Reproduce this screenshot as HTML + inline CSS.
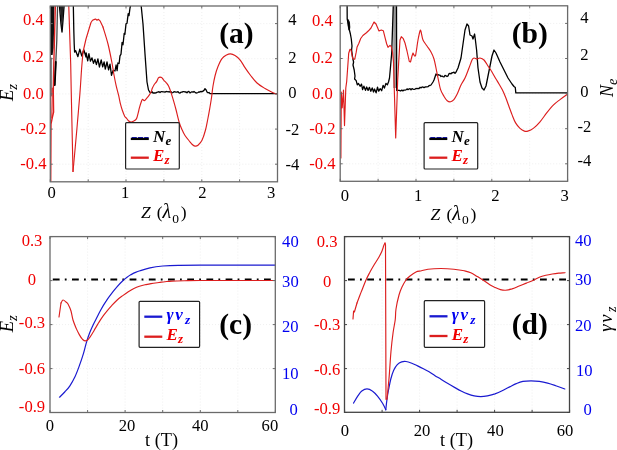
<!DOCTYPE html>
<html><head><meta charset="utf-8"><style>
html,body{margin:0;padding:0;background:#fff;width:617px;height:450px;overflow:hidden}
svg{display:block;filter:blur(0.35px)}
</style></head><body>
<svg width="617" height="450" viewBox="0 0 617 450">
<rect width="617" height="450" fill="#fff"/>
<line x1="88.2" y1="6.0" x2="88.2" y2="181.8" stroke="#ebebeb" stroke-width="0.8" stroke-dasharray="1,2"/>
<line x1="126.0" y1="6.0" x2="126.0" y2="181.8" stroke="#ebebeb" stroke-width="0.8" stroke-dasharray="1,2"/>
<line x1="163.9" y1="6.0" x2="163.9" y2="181.8" stroke="#ebebeb" stroke-width="0.8" stroke-dasharray="1,2"/>
<line x1="201.8" y1="6.0" x2="201.8" y2="181.8" stroke="#ebebeb" stroke-width="0.8" stroke-dasharray="1,2"/>
<line x1="239.6" y1="6.0" x2="239.6" y2="181.8" stroke="#ebebeb" stroke-width="0.8" stroke-dasharray="1,2"/>
<line x1="50.3" y1="23.6" x2="277.5" y2="23.6" stroke="#ebebeb" stroke-width="0.8" stroke-dasharray="1,2"/>
<line x1="50.3" y1="58.7" x2="277.5" y2="58.7" stroke="#ebebeb" stroke-width="0.8" stroke-dasharray="1,2"/>
<line x1="50.3" y1="93.9" x2="277.5" y2="93.9" stroke="#ebebeb" stroke-width="0.8" stroke-dasharray="1,2"/>
<line x1="50.3" y1="129.1" x2="277.5" y2="129.1" stroke="#ebebeb" stroke-width="0.8" stroke-dasharray="1,2"/>
<line x1="50.3" y1="164.2" x2="277.5" y2="164.2" stroke="#ebebeb" stroke-width="0.8" stroke-dasharray="1,2"/>
<clipPath id="cA"><rect x="50.3" y="6.0" width="227.2" height="175.8"/></clipPath>
<g clip-path="url(#cA)">
<polygon points="50.0,4 54.4,4 54.1,30 53.6,48 52.6,55 50.4,55 50.0,55" fill="#111"/>
<polyline points="51.6,58.0 51.6,96.0" fill="none" stroke="#777" stroke-width="1.0" stroke-linejoin="round" stroke-linecap="round" />
<polyline points="57.6,4.0 56.8,40.0 55.8,62.0 54.7,85.0" fill="none" stroke="#444" stroke-width="1.3" stroke-linejoin="round" stroke-linecap="round" />
<polyline points="55.8,62.0 54.7,85.0" fill="none" stroke="#000" stroke-width="1.9" stroke-linejoin="round" stroke-linecap="round" />
<polyline points="59.3,4.0 61.0,24.0 62.0,32.0 63.0,20.0 64.2,4.0" fill="none" stroke="#000" stroke-width="1.4" stroke-linejoin="round" stroke-linecap="round" />
<polygon points="59.6,4 62,31 63.8,4" fill="#222"/>
<polyline points="73.3,4.0 73.8,30.0 74.2,44.0 74.6,52.0 75.6,50.6 77.9,56.7 79.8,49.2 81.8,56.0 83.8,49.8 86.0,57.0 86.2,53.0 87.7,60.8 88.9,53.6 90.4,61.1 92.0,57.9 93.5,63.4 94.9,59.4 96.4,64.6 97.9,58.8 99.4,67.0 101.2,60.0 102.7,66.8 104.1,61.9 105.3,69.1 107.0,62.0 108.6,69.9 110.0,64.2 111.5,75.3 113.1,70.4 115.0,71.0 116.1,65.0 117.1,70.7 117.9,63.0 119.1,63.5 120.0,55.8 121.0,54.1 122.1,42.4 123.0,44.8 124.2,33.4 124.9,34.4 126.0,23.9 127.0,23.3 128.2,13.6 129.0,15.7 130.0,8.0 131.0,4.0 141.0,4.0 143.0,24.0 145.0,54.0 147.0,82.0 148.5,90.0 150.0,92.4 151.0,92.7 152.0,91.7 153.0,93.0 154.0,92.8 155.0,93.0 156.0,92.9 157.0,92.2 158.0,92.2 159.0,91.7 160.0,92.6 161.0,91.7 162.0,91.7 163.0,91.9 164.0,91.8 165.0,92.1 166.0,91.6 167.0,91.5 168.0,91.8 169.0,91.7 170.0,92.1 171.0,91.6 172.0,92.9 173.0,92.5 174.0,91.7 175.0,91.9 176.0,92.1 177.0,92.1 178.0,91.7 179.0,92.8 180.0,93.1 181.0,92.2 182.0,92.2 183.0,91.6 184.0,91.6 185.0,92.0 186.0,91.9 187.0,92.8 188.0,91.7 189.0,91.5 190.0,93.0 191.0,92.3 192.0,91.7 193.0,92.3 194.0,91.5 195.0,92.3 196.0,93.0 197.0,92.8 198.0,92.5 199.0,91.8 200.0,92.0 201.0,91.3 202.0,91.8 203.0,91.1 204.0,90.4 205.0,88.7 206.0,89.8 207.0,92.0 208.0,92.8 209.0,92.5 210.0,93.6 277.5,93.6" fill="none" stroke="#000" stroke-width="1.3" stroke-linejoin="round" stroke-linecap="round" />
<polyline points="55.4,4.0 54.7,30.0 53.8,64.0 53.3,92.0 53.6,112.0 52.2,118.0 51.0,124.0 50.7,183.0" fill="none" stroke="#dc1e1e" stroke-width="1.4" stroke-linejoin="round" stroke-linecap="round" />
<polyline points="52.3,88.0 51.8,118.0" fill="none" stroke="#dc1e1e" stroke-width="1.1" stroke-linejoin="round" stroke-linecap="round" />
<polyline points="68.7,4.0 70.7,64.0 71.2,90.0 73.0,171.5" fill="none" stroke="#dc1e1e" stroke-width="1.15" stroke-linejoin="round" stroke-linecap="round" />
<path d="M73.0,171.5 C73.6,164.6 75.7,142.8 76.8,130.0 C77.9,117.2 79.0,105.0 79.8,95.0 C80.6,85.0 81.0,77.2 81.5,70.0 C82.0,62.8 82.8,55.0 83.0,52.0" fill="none" stroke="#dc1e1e" stroke-width="1.15" stroke-linejoin="round" stroke-linecap="round"/>
<polyline points="83.0,52.0 86.0,39.0 89.0,29.0 91.0,22.5 92.5,20.2 94.0,19.6 95.5,19.0 97.0,20.2 98.5,19.3 100.0,20.8 103.0,27.0" fill="none" stroke="#dc1e1e" stroke-width="1.15" stroke-linejoin="round" stroke-linecap="round" />
<path d="M103.0,27.0 C103.8,29.8 106.5,38.0 108.0,44.0 C109.5,50.0 111.0,57.8 112.0,63.0 C113.0,68.2 113.3,71.2 114.0,75.0 C114.7,78.8 115.4,82.5 116.2,85.9 C117.0,89.4 118.0,92.7 118.7,95.7 C119.4,98.8 119.9,101.8 120.5,104.2 C121.1,106.6 121.6,108.2 122.3,110.3 C123.0,112.3 124.1,115.2 124.8,116.5 C125.5,117.8 126.0,117.6 126.6,118.3 C127.2,119.0 127.7,120.1 128.4,120.7 C129.1,121.3 130.1,121.9 130.9,122.0 C131.7,122.1 132.4,121.8 133.3,121.3 C134.2,120.8 135.6,120.3 136.4,118.9 C137.2,117.5 137.7,114.6 138.2,112.8 C138.7,111.0 138.9,109.7 139.4,107.9 C139.9,106.1 140.8,103.2 141.3,101.8 C141.8,100.4 142.0,99.5 142.5,99.3 C143.0,99.1 143.6,100.8 144.3,100.6 C145.0,100.4 146.0,99.0 146.8,98.1 C147.6,97.2 148.5,96.1 149.2,95.1 C149.9,94.1 150.6,93.1 151.1,92.0 C151.6,90.9 151.8,89.5 152.3,88.3 C152.8,87.1 153.4,85.8 154.1,84.7 C154.8,83.6 155.9,82.7 156.6,81.6 C157.3,80.5 157.8,78.7 158.4,77.9 C159.0,77.2 159.6,77.1 160.2,77.1 C160.8,77.1 161.5,77.4 162.1,77.9 C162.7,78.5 163.2,79.6 163.9,80.4 C164.6,81.2 165.5,81.8 166.3,82.8 C167.1,83.8 168.0,84.8 168.8,86.5 C169.6,88.2 170.5,91.0 171.2,93.2 C171.9,95.4 172.4,96.8 173.2,99.6 C174.0,102.4 175.1,106.1 176.1,110.0 C177.1,113.9 178.4,119.7 179.4,123.0 C180.4,126.3 181.3,127.9 182.2,130.0 C183.1,132.1 183.9,133.8 185.0,135.5 C186.1,137.2 187.7,139.1 188.9,140.5 C190.1,141.9 191.0,143.3 192.0,144.2 C193.0,145.1 194.0,145.9 195.0,146.1 C196.0,146.3 196.8,146.2 198.0,145.2 C199.2,144.2 200.8,142.8 202.0,140.3 C203.2,137.8 204.5,133.7 205.5,130.0 C206.5,126.3 207.2,121.8 208.0,118.0 C208.8,114.2 209.4,110.5 210.0,107.0 C210.6,103.5 211.1,100.5 211.6,97.0 C212.1,93.5 212.4,89.5 213.0,86.0 C213.6,82.5 214.2,79.2 215.0,76.0 C215.8,72.8 216.8,69.4 218.0,66.5 C219.2,63.6 220.5,60.6 222.0,58.6 C223.5,56.6 225.6,55.6 227.0,54.8 C228.4,54.0 229.2,53.8 230.5,53.9 C231.8,54.0 233.4,54.6 235.0,55.6 C236.6,56.6 238.3,57.8 240.0,59.8 C241.7,61.8 243.2,64.9 245.0,67.6 C246.8,70.3 249.0,73.4 251.0,76.0 C253.0,78.6 254.7,80.9 257.0,83.0 C259.3,85.1 262.5,87.0 265.0,88.5 C267.5,90.0 270.2,91.4 272.0,92.3 C273.8,93.2 275.0,93.5 276.0,93.8 C277.0,94.1 277.7,94.0 278.0,94.0" fill="none" stroke="#dc1e1e" stroke-width="1.15" stroke-linejoin="round" stroke-linecap="round"/>
</g>
<path d="M50.3,181.8 v-2.5 M50.3,6.0 v2.5 M88.2,181.8 v-2.5 M88.2,6.0 v2.5 M126.0,181.8 v-2.5 M126.0,6.0 v2.5 M163.9,181.8 v-2.5 M163.9,6.0 v2.5 M201.8,181.8 v-2.5 M201.8,6.0 v2.5 M239.6,181.8 v-2.5 M239.6,6.0 v2.5 M277.5,181.8 v-2.5 M277.5,6.0 v2.5 M50.3,23.6 h2.5 M277.5,23.6 h-2.5 M50.3,58.7 h2.5 M277.5,58.7 h-2.5 M50.3,93.9 h2.5 M277.5,93.9 h-2.5 M50.3,129.1 h2.5 M277.5,129.1 h-2.5 M50.3,164.2 h2.5 M277.5,164.2 h-2.5" stroke="#6a6a6a" stroke-width="1" fill="none"/>
<rect x="50.3" y="6.0" width="227.2" height="175.8" fill="none" stroke="#6a6a6a" stroke-width="1.3"/>
<line x1="378.1" y1="5.8" x2="378.1" y2="181.3" stroke="#ebebeb" stroke-width="0.8" stroke-dasharray="1,2"/>
<line x1="416.0" y1="5.8" x2="416.0" y2="181.3" stroke="#ebebeb" stroke-width="0.8" stroke-dasharray="1,2"/>
<line x1="453.9" y1="5.8" x2="453.9" y2="181.3" stroke="#ebebeb" stroke-width="0.8" stroke-dasharray="1,2"/>
<line x1="491.8" y1="5.8" x2="491.8" y2="181.3" stroke="#ebebeb" stroke-width="0.8" stroke-dasharray="1,2"/>
<line x1="529.7" y1="5.8" x2="529.7" y2="181.3" stroke="#ebebeb" stroke-width="0.8" stroke-dasharray="1,2"/>
<line x1="340.2" y1="23.4" x2="567.6" y2="23.4" stroke="#ebebeb" stroke-width="0.8" stroke-dasharray="1,2"/>
<line x1="340.2" y1="58.5" x2="567.6" y2="58.5" stroke="#ebebeb" stroke-width="0.8" stroke-dasharray="1,2"/>
<line x1="340.2" y1="93.6" x2="567.6" y2="93.6" stroke="#ebebeb" stroke-width="0.8" stroke-dasharray="1,2"/>
<line x1="340.2" y1="128.7" x2="567.6" y2="128.7" stroke="#ebebeb" stroke-width="0.8" stroke-dasharray="1,2"/>
<line x1="340.2" y1="163.8" x2="567.6" y2="163.8" stroke="#ebebeb" stroke-width="0.8" stroke-dasharray="1,2"/>
<clipPath id="cB"><rect x="340.2" y="5.8" width="227.40000000000003" height="175.5"/></clipPath>
<g clip-path="url(#cB)">
<rect x="393.2" y="4" width="3.4" height="84" fill="#9a9a9a"/>
<polygon points="347.2,18.5 348.6,19.5 349.9,22 350.3,27 349.8,31 348.4,30 347.6,25.5" fill="#111"/>
<polyline points="347.1,4.0 347.2,19.0 348.3,24.0 349.4,30.0 350.4,34.0 351.3,39.0 352.0,46.0 351.6,50.0 352.7,58.0 353.6,62.0 353.0,65.0 354.2,70.0 355.0,76.0 354.6,79.0 355.6,80.0 356.1,80.4 357.3,84.9 358.5,83.5 360.1,86.3 361.5,84.1 362.6,89.6 363.9,86.2 365.5,90.3 366.7,87.0 368.1,90.4 369.4,87.3 370.8,91.3 372.2,87.9 373.5,92.0 374.5,89.0 376.1,92.8 377.5,87.2 378.7,91.2 380.2,88.7 381.7,90.7 383.1,85.3 384.4,88.1 385.9,83.4 387.4,84.8 388.5,82.0 389.5,78.0 390.3,69.3 391.7,53.3 392.8,20.0 393.3,4.0" fill="none" stroke="#000" stroke-width="1.3" stroke-linejoin="round" stroke-linecap="round" />
<polyline points="396.5,4.0 396.7,90.5 397.5,90.2 398.6,90.4 399.6,90.5 400.7,91.0 401.8,90.1 402.9,90.9 403.9,90.1 405.0,90.1 406.0,89.9 407.0,88.9 408.0,89.6 409.0,89.0 410.0,88.6 411.0,89.9 412.0,88.7 413.0,89.2 414.0,89.5 415.0,89.1 416.0,88.5 417.0,88.6 418.0,88.5 419.0,88.7 420.0,87.3 421.0,87.9 422.0,87.1 423.0,87.0 424.0,87.7 425.0,87.0 426.0,86.8 427.0,86.8 428.0,86.7 429.0,85.6 430.0,85.5 431.0,85.0 432.0,83.5 433.0,82.0 434.0,80.0 436.0,74.0 437.0,75.0 438.0,74.6 439.0,75.1 440.0,75.1 441.0,76.5 442.0,76.0 443.0,76.6 444.0,77.0 445.0,75.4 446.0,75.8 447.0,76.5 448.0,75.9 449.0,73.7 450.0,73.3 451.0,73.8 452.0,72.6 453.0,72.8 454.0,72.1 455.0,73.4 456.0,72.2 457.0,70.0 458.0,68.0 461.0,58.0 463.0,44.0 465.0,30.0 467.0,24.0 468.6,26.0 470.0,35.0 472.0,36.0 473.0,39.0 474.6,34.0 475.4,40.0 476.6,50.0 478.0,68.0 480.0,82.0 482.0,88.0 484.0,90.0 486.0,86.0 488.0,76.0 490.0,66.0 492.0,56.0 494.0,50.0 496.0,53.0 500.0,62.0 504.0,70.0 508.0,78.0 512.0,84.0 514.0,86.5 515.3,87.5 515.8,92.9 568.0,92.9" fill="none" stroke="#000" stroke-width="1.3" stroke-linejoin="round" stroke-linecap="round" />
<polyline points="340.9,158.0 341.3,92.0 342.2,107.8 343.5,90.0 344.5,125.6 345.8,88.0 346.7,81.3 348.7,53.3 350.0,49.3 351.0,50.0 352.7,58.7 354.7,59.3 356.2,52.2 357.1,46.9 358.9,43.3 360.7,38.5 362.9,35.5 366.4,32.7 368.5,30.8 371.0,28.0 374.0,22.0 376.0,24.0 379.0,31.0 381.3,30.0 383.3,30.7 385.3,38.7 386.7,44.0 388.0,47.3 390.0,45.3 391.3,46.7 392.5,52.0 393.5,62.0 395.7,138.0 397.7,80.0 398.7,62.0 400.0,40.0 401.3,36.7 403.3,38.7 405.0,43.0 407.0,51.0 409.3,61.5 410.5,62.0 412.0,56.0 413.0,53.0 414.5,56.0 415.5,56.0 416.5,50.0" fill="none" stroke="#dc1e1e" stroke-width="1.15" stroke-linejoin="round" stroke-linecap="round" />
<path d="M416.5,50.0 C416.8,48.3 417.4,43.2 418.0,40.0 C418.6,36.8 419.5,32.4 420.0,31.0 C420.5,29.6 420.5,30.0 421.0,31.5 C421.5,33.0 422.0,37.6 423.0,40.0 C424.0,42.4 425.7,44.0 427.0,46.0 C428.3,48.0 429.8,49.8 431.0,52.0 C432.2,54.2 433.2,56.3 434.0,59.0 C434.8,61.7 435.3,64.8 436.0,68.0 C436.7,71.2 437.2,74.4 438.0,78.0 C438.8,81.6 439.6,86.6 440.6,89.6 C441.6,92.6 442.8,94.3 443.9,96.2 C445.0,98.1 446.1,99.8 447.2,100.7 C448.3,101.6 449.5,102.0 450.6,101.8 C451.7,101.6 452.8,100.9 453.9,99.6 C455.0,98.3 456.0,96.4 457.2,94.0 C458.4,91.6 459.7,87.7 461.0,85.0 C462.3,82.3 463.7,80.8 465.0,78.0 C466.3,75.2 467.8,71.0 469.0,68.0 C470.2,65.0 471.2,61.7 472.0,60.0 C472.8,58.3 473.2,58.2 474.0,58.0 C474.8,57.8 476.0,59.0 477.0,59.0 C478.0,59.0 478.8,57.8 480.0,58.0 C481.2,58.2 482.7,58.7 484.0,60.0 C485.3,61.3 486.7,64.0 488.0,66.0 C489.3,68.0 490.7,69.8 492.0,72.0 C493.3,74.2 494.8,77.0 496.0,79.0 C497.2,81.0 498.0,82.2 499.0,84.0 C500.0,85.8 501.1,87.4 502.2,89.6 C503.3,91.8 504.5,94.5 505.6,97.3 C506.7,100.1 507.8,103.2 508.9,106.2 C510.0,109.2 511.1,112.3 512.2,115.1 C513.3,117.9 514.3,120.7 515.6,122.9 C516.9,125.1 518.5,127.0 520.0,128.4 C521.5,129.8 523.1,130.7 524.4,131.1 C525.7,131.5 526.3,131.5 527.8,131.1 C529.3,130.7 531.3,130.0 533.3,128.4 C535.3,126.9 537.8,124.4 540.0,121.8 C542.2,119.2 544.5,115.7 546.7,112.9 C548.9,110.1 551.1,107.3 553.3,105.1 C555.5,102.9 557.8,101.3 560.0,99.6 C562.2,97.9 565.4,95.6 566.7,94.7 C568.0,93.8 567.8,94.1 568.0,94.0" fill="none" stroke="#dc1e1e" stroke-width="1.15" stroke-linejoin="round" stroke-linecap="round"/>
</g>
<path d="M340.2,181.3 v-2.5 M340.2,5.8 v2.5 M378.1,181.3 v-2.5 M378.1,5.8 v2.5 M416.0,181.3 v-2.5 M416.0,5.8 v2.5 M453.9,181.3 v-2.5 M453.9,5.8 v2.5 M491.8,181.3 v-2.5 M491.8,5.8 v2.5 M529.7,181.3 v-2.5 M529.7,5.8 v2.5 M567.6,181.3 v-2.5 M567.6,5.8 v2.5 M340.2,23.4 h2.5 M567.6,23.4 h-2.5 M340.2,58.5 h2.5 M567.6,58.5 h-2.5 M340.2,93.6 h2.5 M567.6,93.6 h-2.5 M340.2,128.7 h2.5 M567.6,128.7 h-2.5 M340.2,163.8 h2.5 M567.6,163.8 h-2.5" stroke="#6a6a6a" stroke-width="1" fill="none"/>
<rect x="340.2" y="5.8" width="227.40000000000003" height="175.5" fill="none" stroke="#6a6a6a" stroke-width="1.3"/>
<line x1="87.6" y1="236.6" x2="87.6" y2="412.5" stroke="#ebebeb" stroke-width="0.8" stroke-dasharray="1,2"/>
<line x1="125.1" y1="236.6" x2="125.1" y2="412.5" stroke="#ebebeb" stroke-width="0.8" stroke-dasharray="1,2"/>
<line x1="162.7" y1="236.6" x2="162.7" y2="412.5" stroke="#ebebeb" stroke-width="0.8" stroke-dasharray="1,2"/>
<line x1="200.3" y1="236.6" x2="200.3" y2="412.5" stroke="#ebebeb" stroke-width="0.8" stroke-dasharray="1,2"/>
<line x1="237.8" y1="236.6" x2="237.8" y2="412.5" stroke="#ebebeb" stroke-width="0.8" stroke-dasharray="1,2"/>
<line x1="50.0" y1="280.6" x2="275.3" y2="280.6" stroke="#ebebeb" stroke-width="0.8" stroke-dasharray="1,2"/>
<line x1="50.0" y1="324.6" x2="275.3" y2="324.6" stroke="#ebebeb" stroke-width="0.8" stroke-dasharray="1,2"/>
<line x1="50.0" y1="368.6" x2="275.3" y2="368.6" stroke="#ebebeb" stroke-width="0.8" stroke-dasharray="1,2"/>
<line x1="52.8" y1="279.4" x2="275" y2="279.4" stroke="#000" stroke-width="2" stroke-dasharray="6.8,5.2,1.8,5.4"/>
<path d="M59.5,397.2 C60.4,396.3 63.0,393.9 64.7,392.0 C66.4,390.1 68.2,388.4 69.9,385.8 C71.6,383.2 73.5,379.7 75.1,376.4 C76.7,373.1 77.9,369.7 79.3,365.9 C80.7,362.1 82.3,357.4 83.5,353.4 C84.7,349.4 85.5,345.4 86.6,341.9 C87.6,338.4 88.7,335.3 89.8,332.5 C90.9,329.7 91.9,327.6 93.0,325.2 C94.1,322.8 95.2,320.8 96.5,318.3 C97.8,315.8 99.0,313.1 100.6,310.2 C102.2,307.3 104.2,303.9 106.1,301.1 C107.9,298.3 109.8,295.7 111.7,293.3 C113.6,290.9 115.4,288.8 117.2,286.7 C119.0,284.6 121.2,282.3 122.8,280.8 C124.4,279.3 125.3,278.5 126.7,277.5 C128.1,276.5 129.6,275.5 131.1,274.6 C132.6,273.8 134.1,273.0 135.6,272.4 C137.1,271.8 137.6,271.6 140.0,270.8 C142.4,270.0 146.2,268.6 150.0,267.8 C153.8,267.0 158.1,266.4 162.8,266.0 C167.5,265.6 172.2,265.4 178.4,265.3 C184.6,265.2 183.9,265.2 200.0,265.2 C216.1,265.2 262.5,265.2 275.0,265.2" fill="none" stroke="#1a1ad0" stroke-width="1.2" stroke-linejoin="round" stroke-linecap="round"/>
<polyline points="59.0,317.0 61.0,303.0" fill="none" stroke="#dc1e1e" stroke-width="1.15" stroke-linejoin="round" stroke-linecap="round" />
<path d="M61.0,303.0 C61.3,302.5 62.2,300.2 63.0,300.0 C63.8,299.8 65.2,301.3 66.0,302.0 C66.8,302.7 67.2,302.5 68.0,304.0 C68.8,305.5 70.2,308.3 71.0,311.0 C71.8,313.7 72.1,317.1 73.0,320.0 C73.9,322.9 75.2,326.0 76.2,328.4 C77.2,330.8 78.3,332.8 79.3,334.6 C80.3,336.4 81.4,338.1 82.4,339.2 C83.5,340.2 84.5,341.0 85.6,340.9 C86.6,340.8 87.5,340.2 88.7,338.8 C89.9,337.4 91.9,334.1 92.9,332.5 C94.0,330.9 94.2,330.2 95.0,328.9 C95.8,327.6 96.6,326.2 97.5,324.6 C98.4,323.1 99.2,321.7 100.6,319.6 C102.0,317.5 104.2,314.5 106.1,312.2 C107.9,309.9 109.8,307.6 111.7,305.6 C113.6,303.6 115.4,301.7 117.2,300.0 C119.0,298.3 120.9,297.0 122.8,295.6 C124.7,294.2 126.5,292.9 128.3,291.7 C130.2,290.5 132.1,289.4 133.9,288.5 C135.8,287.6 137.6,286.9 139.4,286.3 C141.2,285.7 143.1,285.2 145.0,284.8 C146.9,284.4 148.7,284.0 151.0,283.6 C153.3,283.2 156.7,282.8 159.0,282.5 C161.3,282.2 162.8,281.9 165.0,281.7 C167.2,281.5 168.7,281.3 172.0,281.1 C175.3,280.9 180.3,280.8 185.0,280.7 C189.7,280.6 185.0,280.5 200.0,280.5 C215.0,280.5 262.5,280.5 275.0,280.5" fill="none" stroke="#dc1e1e" stroke-width="1.15" stroke-linejoin="round" stroke-linecap="round"/>
<path d="M50.0,412.5 v-2.5 M50.0,236.6 v2.5 M87.6,412.5 v-2.5 M87.6,236.6 v2.5 M125.1,412.5 v-2.5 M125.1,236.6 v2.5 M162.7,412.5 v-2.5 M162.7,236.6 v2.5 M200.3,412.5 v-2.5 M200.3,236.6 v2.5 M237.8,412.5 v-2.5 M237.8,236.6 v2.5 M275.4,412.5 v-2.5 M275.4,236.6 v2.5 M50.0,236.6 h2.5 M275.3,236.6 h-2.5 M50.0,280.6 h2.5 M275.3,280.6 h-2.5 M50.0,324.6 h2.5 M275.3,324.6 h-2.5 M50.0,368.6 h2.5 M275.3,368.6 h-2.5 M50.0,412.5 h2.5 M275.3,412.5 h-2.5" stroke="#6a6a6a" stroke-width="1" fill="none"/>
<rect x="50.0" y="236.6" width="225.3" height="175.9" fill="none" stroke="#6a6a6a" stroke-width="1.3"/>
<line x1="382.1" y1="236.6" x2="382.1" y2="412.3" stroke="#ebebeb" stroke-width="0.8" stroke-dasharray="1,2"/>
<line x1="419.6" y1="236.6" x2="419.6" y2="412.3" stroke="#ebebeb" stroke-width="0.8" stroke-dasharray="1,2"/>
<line x1="457.1" y1="236.6" x2="457.1" y2="412.3" stroke="#ebebeb" stroke-width="0.8" stroke-dasharray="1,2"/>
<line x1="494.6" y1="236.6" x2="494.6" y2="412.3" stroke="#ebebeb" stroke-width="0.8" stroke-dasharray="1,2"/>
<line x1="532.1" y1="236.6" x2="532.1" y2="412.3" stroke="#ebebeb" stroke-width="0.8" stroke-dasharray="1,2"/>
<line x1="344.5" y1="280.6" x2="569.5" y2="280.6" stroke="#ebebeb" stroke-width="0.8" stroke-dasharray="1,2"/>
<line x1="344.5" y1="324.6" x2="569.5" y2="324.6" stroke="#ebebeb" stroke-width="0.8" stroke-dasharray="1,2"/>
<line x1="344.5" y1="368.6" x2="569.5" y2="368.6" stroke="#ebebeb" stroke-width="0.8" stroke-dasharray="1,2"/>
<line x1="348" y1="279.6" x2="569" y2="279.6" stroke="#000" stroke-width="2" stroke-dasharray="6.8,5.2,1.8,5.4"/>
<path d="M353.5,403.1 C354.2,402.0 356.3,398.2 357.7,396.2 C359.1,394.2 360.2,392.2 361.8,391.0 C363.4,389.8 365.2,388.9 367.0,388.9 C368.8,388.9 370.6,389.8 372.3,391.0 C374.1,392.2 375.8,394.1 377.5,396.2 C379.2,398.3 381.3,401.2 382.7,403.5 C384.1,405.8 385.3,408.8 385.8,409.8" fill="none" stroke="#1a1ad0" stroke-width="1.2" stroke-linejoin="round" stroke-linecap="round"/>
<path d="M385.8,409.8 C386.0,407.8 386.7,401.2 387.2,397.7 C387.7,394.2 388.1,392.1 388.7,389.0 C389.3,385.9 390.0,382.1 390.8,379.0 C391.6,375.9 392.6,372.6 393.7,370.2 C394.8,367.8 396.0,366.0 397.3,364.6 C398.6,363.2 400.2,362.4 401.7,361.9 C403.1,361.4 404.3,361.3 406.0,361.5 C407.7,361.7 409.9,362.5 411.8,363.2 C413.7,363.9 415.7,365.0 417.6,365.9 C419.5,366.8 421.5,367.8 423.4,368.8 C425.3,369.8 427.2,370.6 429.1,371.7 C431.0,372.8 432.7,374.1 434.7,375.4 C436.7,376.7 439.1,378.1 441.3,379.5 C443.5,380.9 445.7,382.3 447.9,383.6 C450.1,384.9 452.3,386.2 454.5,387.4 C456.7,388.6 458.9,389.9 461.1,391.0 C463.3,392.1 465.4,393.1 467.6,393.9 C469.8,394.7 472.0,395.4 474.2,395.9 C476.4,396.4 478.6,396.7 480.8,396.7 C483.0,396.7 485.0,396.4 487.4,395.9 C489.8,395.4 492.4,394.8 495.0,393.9 C497.6,392.9 500.8,391.4 503.2,390.2 C505.6,389.0 507.5,388.0 509.7,386.9 C511.9,385.8 514.1,384.5 516.3,383.6 C518.5,382.7 520.4,381.9 522.9,381.4 C525.4,380.9 528.4,380.8 531.1,380.8 C533.8,380.8 536.5,381.0 539.3,381.4 C542.0,381.8 544.9,382.4 547.6,383.1 C550.4,383.8 552.9,384.7 555.8,385.7 C558.7,386.7 563.3,388.4 564.8,389.0" fill="none" stroke="#1a1ad0" stroke-width="1.2" stroke-linejoin="round" stroke-linecap="round"/>
<polyline points="353.0,319.0 353.6,311.0 354.4,312.0 357.0,303.0" fill="none" stroke="#dc1e1e" stroke-width="1.15" stroke-linejoin="round" stroke-linecap="round" />
<path d="M357.0,303.0 C357.5,301.7 359.2,297.2 360.0,295.0 C360.8,292.8 361.0,292.5 362.0,290.0 C363.0,287.5 364.7,283.0 366.0,280.0 C367.3,277.0 368.7,274.5 370.0,272.0 C371.3,269.5 372.5,267.5 374.0,265.0 C375.5,262.5 377.7,259.3 379.0,257.0 C380.3,254.7 381.2,253.0 382.0,251.0 C382.8,249.0 383.5,246.3 384.0,245.0 C384.5,243.7 384.8,243.3 385.0,243.0" fill="none" stroke="#dc1e1e" stroke-width="1.15" stroke-linejoin="round" stroke-linecap="round"/>
<polyline points="385.0,243.0 385.5,245.0 386.0,399.3 387.0,399.0" fill="none" stroke="#dc1e1e" stroke-width="1.15" stroke-linejoin="round" stroke-linecap="round" />
<path d="M387.0,399.0 C387.3,395.6 388.3,386.4 389.0,378.5 C389.7,370.6 390.3,359.0 391.0,351.3 C391.7,343.6 392.4,337.7 393.1,332.5 C393.8,327.3 394.7,323.9 395.2,320.0 C395.7,316.1 395.4,313.2 396.0,309.0 C396.6,304.8 398.0,298.7 399.0,295.0 C400.0,291.3 400.8,289.5 402.0,287.0 C403.2,284.5 404.7,281.8 406.0,280.0 C407.3,278.2 408.3,277.3 410.0,276.0 C411.7,274.7 414.1,272.9 416.0,272.0 C417.9,271.1 419.5,271.3 421.5,270.8 C423.5,270.3 424.8,269.6 428.0,269.2 C431.2,268.8 436.6,268.5 440.9,268.5 C445.2,268.5 450.0,268.8 453.9,269.2 C457.8,269.6 461.5,270.2 464.3,270.8 C467.1,271.4 468.6,271.7 470.8,272.7 C473.0,273.7 475.2,275.3 477.3,276.6 C479.4,277.9 481.6,279.1 483.7,280.5 C485.8,281.9 488.3,283.8 490.2,285.0 C492.1,286.2 493.5,286.8 495.2,287.6 C496.9,288.4 498.7,289.2 500.4,289.6 C502.1,290.0 503.7,290.3 505.6,290.2 C507.5,290.1 509.9,289.5 512.0,288.9 C514.1,288.2 516.1,287.3 518.5,286.3 C520.9,285.3 523.9,284.1 526.3,283.1 C528.7,282.1 530.6,281.5 532.8,280.5 C535.0,279.5 537.1,278.1 539.3,277.2 C541.5,276.3 543.6,275.8 545.8,275.3 C548.0,274.8 550.1,274.4 552.3,274.0 C554.4,273.6 556.6,273.3 558.7,273.1 C560.8,272.9 564.0,272.8 565.0,272.7" fill="none" stroke="#dc1e1e" stroke-width="1.15" stroke-linejoin="round" stroke-linecap="round"/>
<path d="M344.6,412.3 v-2.5 M344.6,236.6 v2.5 M382.1,412.3 v-2.5 M382.1,236.6 v2.5 M419.6,412.3 v-2.5 M419.6,236.6 v2.5 M457.1,412.3 v-2.5 M457.1,236.6 v2.5 M494.6,412.3 v-2.5 M494.6,236.6 v2.5 M532.1,412.3 v-2.5 M532.1,236.6 v2.5 M569.6,412.3 v-2.5 M569.6,236.6 v2.5 M344.5,236.6 h2.5 M569.5,236.6 h-2.5 M344.5,280.6 h2.5 M569.5,280.6 h-2.5 M344.5,324.6 h2.5 M569.5,324.6 h-2.5 M344.5,368.6 h2.5 M569.5,368.6 h-2.5 M344.5,412.5 h2.5 M569.5,412.5 h-2.5" stroke="#444" stroke-width="1" fill="none"/>
<rect x="344.5" y="236.6" width="225.0" height="175.70000000000002" fill="none" stroke="#444" stroke-width="1.3"/>
<text x="33.4" y="25.1" font-family="Liberation Serif" font-size="16.6" fill="#f00000" text-anchor="middle" font-weight="normal" font-style="normal">0.4</text>
<text x="33.4" y="61.7" font-family="Liberation Serif" font-size="16.6" fill="#f00000" text-anchor="middle" font-weight="normal" font-style="normal">0.2</text>
<text x="33.4" y="99.1" font-family="Liberation Serif" font-size="16.6" fill="#f00000" text-anchor="middle" font-weight="normal" font-style="normal">0.0</text>
<text x="33.4" y="133.8" font-family="Liberation Serif" font-size="16.6" fill="#f00000" text-anchor="middle" font-weight="normal" font-style="normal">-0.2</text>
<text x="33.4" y="168.6" font-family="Liberation Serif" font-size="16.6" fill="#f00000" text-anchor="middle" font-weight="normal" font-style="normal">-0.4</text>
<text x="292.3" y="24.9" font-family="Liberation Serif" font-size="16.6" fill="#000" text-anchor="middle" font-weight="normal" font-style="normal">4</text>
<text x="292.3" y="62.8" font-family="Liberation Serif" font-size="16.6" fill="#000" text-anchor="middle" font-weight="normal" font-style="normal">2</text>
<text x="292.3" y="97.8" font-family="Liberation Serif" font-size="16.6" fill="#000" text-anchor="middle" font-weight="normal" font-style="normal">0</text>
<text x="292.3" y="135.0" font-family="Liberation Serif" font-size="16.6" fill="#000" text-anchor="middle" font-weight="normal" font-style="normal">-2</text>
<text x="292.3" y="170.0" font-family="Liberation Serif" font-size="16.6" fill="#000" text-anchor="middle" font-weight="normal" font-style="normal">-4</text>
<text x="51.6" y="198.1" font-family="Liberation Serif" font-size="16.6" fill="#000" text-anchor="middle" font-weight="normal" font-style="normal">0</text>
<text x="125.1" y="198.1" font-family="Liberation Serif" font-size="16.6" fill="#000" text-anchor="middle" font-weight="normal" font-style="normal">1</text>
<text x="202.3" y="198.1" font-family="Liberation Serif" font-size="16.6" fill="#000" text-anchor="middle" font-weight="normal" font-style="normal">2</text>
<text x="271.2" y="198.1" font-family="Liberation Serif" font-size="16.6" fill="#000" text-anchor="middle" font-weight="normal" font-style="normal">3</text>
<text x="322.4" y="25.9" font-family="Liberation Serif" font-size="16.6" fill="#f00000" text-anchor="middle" font-weight="normal" font-style="normal">0.4</text>
<text x="322.4" y="62.5" font-family="Liberation Serif" font-size="16.6" fill="#f00000" text-anchor="middle" font-weight="normal" font-style="normal">0.2</text>
<text x="322.4" y="99.2" font-family="Liberation Serif" font-size="16.6" fill="#f00000" text-anchor="middle" font-weight="normal" font-style="normal">0.0</text>
<text x="322.4" y="134.4" font-family="Liberation Serif" font-size="16.6" fill="#f00000" text-anchor="middle" font-weight="normal" font-style="normal">-0.2</text>
<text x="322.4" y="169.1" font-family="Liberation Serif" font-size="16.6" fill="#f00000" text-anchor="middle" font-weight="normal" font-style="normal">-0.4</text>
<text x="584.3" y="22.5" font-family="Liberation Serif" font-size="16.6" fill="#000" text-anchor="middle" font-weight="normal" font-style="normal">4</text>
<text x="584.3" y="59.9" font-family="Liberation Serif" font-size="16.6" fill="#000" text-anchor="middle" font-weight="normal" font-style="normal">2</text>
<text x="584.3" y="96.6" font-family="Liberation Serif" font-size="16.6" fill="#000" text-anchor="middle" font-weight="normal" font-style="normal">0</text>
<text x="584.3" y="131.5" font-family="Liberation Serif" font-size="16.6" fill="#000" text-anchor="middle" font-weight="normal" font-style="normal">-2</text>
<text x="584.3" y="165.8" font-family="Liberation Serif" font-size="16.6" fill="#000" text-anchor="middle" font-weight="normal" font-style="normal">-4</text>
<text x="344.8" y="200.8" font-family="Liberation Serif" font-size="16.6" fill="#000" text-anchor="middle" font-weight="normal" font-style="normal">0</text>
<text x="418.1" y="200.8" font-family="Liberation Serif" font-size="16.6" fill="#000" text-anchor="middle" font-weight="normal" font-style="normal">1</text>
<text x="495.5" y="200.8" font-family="Liberation Serif" font-size="16.6" fill="#000" text-anchor="middle" font-weight="normal" font-style="normal">2</text>
<text x="564.6" y="200.8" font-family="Liberation Serif" font-size="16.6" fill="#000" text-anchor="middle" font-weight="normal" font-style="normal">3</text>
<text x="32.0" y="245.9" font-family="Liberation Serif" font-size="16.6" fill="#f00000" text-anchor="middle" font-weight="normal" font-style="normal">0.3</text>
<text x="32.0" y="284.6" font-family="Liberation Serif" font-size="16.6" fill="#f00000" text-anchor="middle" font-weight="normal" font-style="normal">0</text>
<text x="32.0" y="328.0" font-family="Liberation Serif" font-size="16.6" fill="#f00000" text-anchor="middle" font-weight="normal" font-style="normal">-0.3</text>
<text x="32.0" y="374.3" font-family="Liberation Serif" font-size="16.6" fill="#f00000" text-anchor="middle" font-weight="normal" font-style="normal">-0.6</text>
<text x="32.0" y="412.3" font-family="Liberation Serif" font-size="16.6" fill="#f00000" text-anchor="middle" font-weight="normal" font-style="normal">-0.9</text>
<text x="290.4" y="246.7" font-family="Liberation Serif" font-size="16.6" fill="#0000f0" text-anchor="middle" font-weight="normal" font-style="normal">40</text>
<text x="290.4" y="286.7" font-family="Liberation Serif" font-size="16.6" fill="#0000f0" text-anchor="middle" font-weight="normal" font-style="normal">30</text>
<text x="290.2" y="332.1" font-family="Liberation Serif" font-size="16.6" fill="#0000f0" text-anchor="middle" font-weight="normal" font-style="normal">20</text>
<text x="290.2" y="378.6" font-family="Liberation Serif" font-size="16.6" fill="#0000f0" text-anchor="middle" font-weight="normal" font-style="normal">10</text>
<text x="293.6" y="415.2" font-family="Liberation Serif" font-size="16.6" fill="#0000f0" text-anchor="middle" font-weight="normal" font-style="normal">0</text>
<text x="49.8" y="431.2" font-family="Liberation Serif" font-size="16.6" fill="#000" text-anchor="middle" font-weight="normal" font-style="normal">0</text>
<text x="127.1" y="431.2" font-family="Liberation Serif" font-size="16.6" fill="#000" text-anchor="middle" font-weight="normal" font-style="normal">20</text>
<text x="200.3" y="431.2" font-family="Liberation Serif" font-size="16.6" fill="#000" text-anchor="middle" font-weight="normal" font-style="normal">40</text>
<text x="269.9" y="431.2" font-family="Liberation Serif" font-size="16.6" fill="#000" text-anchor="middle" font-weight="normal" font-style="normal">60</text>
<text x="327.2" y="247.4" font-family="Liberation Serif" font-size="16.6" fill="#f00000" text-anchor="middle" font-weight="normal" font-style="normal">0.3</text>
<text x="327.2" y="286.7" font-family="Liberation Serif" font-size="16.6" fill="#f00000" text-anchor="middle" font-weight="normal" font-style="normal">0</text>
<text x="327.2" y="329.5" font-family="Liberation Serif" font-size="16.6" fill="#f00000" text-anchor="middle" font-weight="normal" font-style="normal">-0.3</text>
<text x="327.2" y="375.4" font-family="Liberation Serif" font-size="16.6" fill="#f00000" text-anchor="middle" font-weight="normal" font-style="normal">-0.6</text>
<text x="327.2" y="414.0" font-family="Liberation Serif" font-size="16.6" fill="#f00000" text-anchor="middle" font-weight="normal" font-style="normal">-0.9</text>
<text x="583.3" y="245.7" font-family="Liberation Serif" font-size="16.6" fill="#0000f0" text-anchor="middle" font-weight="normal" font-style="normal">40</text>
<text x="583.3" y="284.8" font-family="Liberation Serif" font-size="16.6" fill="#0000f0" text-anchor="middle" font-weight="normal" font-style="normal">30</text>
<text x="583.3" y="330.9" font-family="Liberation Serif" font-size="16.6" fill="#0000f0" text-anchor="middle" font-weight="normal" font-style="normal">20</text>
<text x="584.2" y="375.8" font-family="Liberation Serif" font-size="16.6" fill="#0000f0" text-anchor="middle" font-weight="normal" font-style="normal">10</text>
<text x="587.7" y="415.2" font-family="Liberation Serif" font-size="16.6" fill="#0000f0" text-anchor="middle" font-weight="normal" font-style="normal">0</text>
<text x="344.8" y="435.6" font-family="Liberation Serif" font-size="16.6" fill="#000" text-anchor="middle" font-weight="normal" font-style="normal">0</text>
<text x="422.1" y="435.6" font-family="Liberation Serif" font-size="16.6" fill="#000" text-anchor="middle" font-weight="normal" font-style="normal">20</text>
<text x="495.4" y="435.6" font-family="Liberation Serif" font-size="16.6" fill="#000" text-anchor="middle" font-weight="normal" font-style="normal">40</text>
<text x="565.1" y="435.6" font-family="Liberation Serif" font-size="16.6" fill="#000" text-anchor="middle" font-weight="normal" font-style="normal">60</text>
<text y="218.4" font-family="Liberation Serif" font-size="17.5" fill="#000"><tspan x="140.9" font-style="italic">Z</tspan><tspan x="156.7">(</tspan><tspan x="162.6" font-style="italic" font-size="20">λ</tspan><tspan x="172.3" font-size="13.5" dy="4.3">0</tspan><tspan x="180.7" dy="-4.3">)</tspan></text>
<text y="220.1" font-family="Liberation Serif" font-size="17.5" fill="#000"><tspan x="430.6" font-style="italic">Z</tspan><tspan x="446.4">(</tspan><tspan x="452.3" font-style="italic" font-size="20">λ</tspan><tspan x="462.0" font-size="13.5" dy="4.3">0</tspan><tspan x="470.4" dy="-4.3">)</tspan></text>
<text x="145.0" y="445.9" font-family="Liberation Serif" font-size="18.3" fill="#000">t (T)</text>
<text x="440.0" y="445.9" font-family="Liberation Serif" font-size="18.3" fill="#000">t (T)</text>
<text transform="translate(13.1,92.5) rotate(-90)" font-family="Liberation Serif" font-size="18.5" fill="#000" text-anchor="middle"><tspan font-style="italic">E</tspan><tspan font-style="italic" font-size="15" dy="3.5">z</tspan></text>
<text transform="translate(13.1,323.7) rotate(-90)" font-family="Liberation Serif" font-size="18.5" fill="#000" text-anchor="middle"><tspan font-style="italic">E</tspan><tspan font-style="italic" font-size="15" dy="3.5">z</tspan></text>
<text transform="translate(613.4,87.8) rotate(-90)" font-family="Liberation Serif" font-size="18" fill="#000" text-anchor="middle"><tspan font-style="italic">N</tspan><tspan font-style="italic" font-size="14.5" dy="3.2">e</tspan></text>
<text transform="translate(611.7,319.2) rotate(-90)" font-family="Liberation Serif" font-size="18.5" fill="#000" text-anchor="middle"><tspan font-style="italic" letter-spacing="1.8">γv</tspan><tspan font-style="italic" font-size="14" dy="3.8" dx="0.5">z</tspan></text>
<text x="219.3" y="42.9" font-family="Liberation Serif" font-size="29.5" font-weight="bold" fill="#000">(a)</text>
<text x="511.8" y="42.9" font-family="Liberation Serif" font-size="29.5" font-weight="bold" fill="#000">(b)</text>
<text x="219.3" y="333.5" font-family="Liberation Serif" font-size="29.5" font-weight="bold" fill="#000">(c)</text>
<text x="511.8" y="333.5" font-family="Liberation Serif" font-size="29.5" font-weight="bold" fill="#000">(d)</text>
<rect x="125.6" y="122.7" width="53.70000000000002" height="46.3" rx="1" fill="#fff" stroke="#222" stroke-width="1.2"/>
<line x1="131.79999999999998" y1="137.6" x2="148.6" y2="137.6" stroke="#1a1acc" stroke-width="1.3" stroke-dasharray="5,1.2"/>
<line x1="130.79999999999998" y1="138.9" x2="148.79999999999998" y2="138.9" stroke="#000" stroke-width="2.3"/>
<text x="153.1" y="141.7" font-family="Liberation Serif" font-size="17" font-weight="bold" font-style="italic" fill="#000">N<tspan font-size="13" dy="3">e</tspan></text>
<line x1="130.79999999999998" y1="157.7" x2="148.79999999999998" y2="157.7" stroke="#dc1e1e" stroke-width="2.3"/>
<text x="153.1" y="161" font-family="Liberation Serif" font-size="17" font-weight="bold" font-style="italic" fill="#f00000">E<tspan font-size="13" dy="3">z</tspan></text>
<rect x="424.1" y="122.7" width="53.599999999999966" height="46.3" rx="1" fill="#fff" stroke="#222" stroke-width="1.2"/>
<line x1="430.3" y1="137.6" x2="447.1" y2="137.6" stroke="#1a1acc" stroke-width="1.3" stroke-dasharray="5,1.2"/>
<line x1="429.3" y1="138.9" x2="447.3" y2="138.9" stroke="#000" stroke-width="2.3"/>
<text x="451.6" y="141.7" font-family="Liberation Serif" font-size="17" font-weight="bold" font-style="italic" fill="#000">N<tspan font-size="13" dy="3">e</tspan></text>
<line x1="429.3" y1="157.7" x2="447.3" y2="157.7" stroke="#dc1e1e" stroke-width="2.3"/>
<text x="451.6" y="161" font-family="Liberation Serif" font-size="17" font-weight="bold" font-style="italic" fill="#f00000">E<tspan font-size="13" dy="3">z</tspan></text>
<rect x="139.1" y="301.3" width="60.5" height="46.0" rx="1" fill="#fff" stroke="#222" stroke-width="1.2"/>
<line x1="144.29999999999998" y1="316.7" x2="162.29999999999998" y2="316.7" stroke="#1a1ad0" stroke-width="2.3"/>
<text x="166.6" y="320" font-family="Liberation Serif" font-size="17" font-weight="bold" font-style="italic" fill="#0000f0"><tspan letter-spacing="1.6">γv</tspan><tspan font-size="13.5" dy="3.5" dx="0.5">z</tspan></text>
<line x1="144.29999999999998" y1="336.7" x2="162.29999999999998" y2="336.7" stroke="#dc1e1e" stroke-width="2.3"/>
<text x="166.6" y="340" font-family="Liberation Serif" font-size="17" font-weight="bold" font-style="italic" fill="#f00000">E<tspan font-size="13" dy="3">z</tspan></text>
<rect x="424.3" y="300.7" width="60.30000000000001" height="46.60000000000002" rx="1" fill="#fff" stroke="#222" stroke-width="1.2"/>
<line x1="429.5" y1="316.3" x2="447.5" y2="316.3" stroke="#1a1ad0" stroke-width="2.3"/>
<text x="451.8" y="320" font-family="Liberation Serif" font-size="17" font-weight="bold" font-style="italic" fill="#0000f0"><tspan letter-spacing="1.6">γv</tspan><tspan font-size="13.5" dy="3.5" dx="0.5">z</tspan></text>
<line x1="429.5" y1="336" x2="447.5" y2="336" stroke="#dc1e1e" stroke-width="2.3"/>
<text x="451.8" y="340" font-family="Liberation Serif" font-size="17" font-weight="bold" font-style="italic" fill="#f00000">E<tspan font-size="13" dy="3">z</tspan></text>
</svg>
</body></html>
